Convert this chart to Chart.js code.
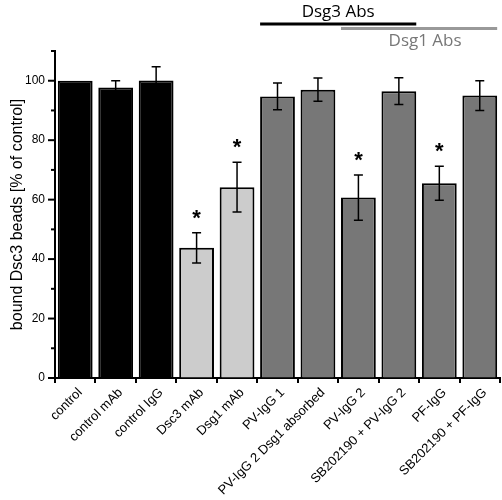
<!DOCTYPE html>
<html>
<head>
<meta charset="utf-8">
<script src="https://cdn.jsdelivr.net/npm/chart.js@4/dist/chart.umd.min.js"></script>
<style>
  body { margin: 0; background: #fff; }
  #wrap { width: 502px; height: 500px; }
</style>
</head>
<body>
<div id="wrap"><canvas id="myChart" width="502" height="500"></canvas></div>
<script>
// values
const categories = ['control', 'control mAb', 'control IgG', 'Dsc3 mAb', 'Dsg1 mAb', 'PV-IgG 1',
  'PV-IgG 2 Dsg1 absorbed', 'PV-IgG 2', 'SB202190 + PV-IgG 2', 'PF-IgG', 'SB202190 + PF-IgG'];
const boundBeads = [100, 97.7, 100.1, 43.8, 64.2, 94.7, 97, 60.7, 96.5, 65.5, 95];
const errors = [0, 2.3, 4.6, 5.1, 8.4, 4.5, 3.9, 7.6, 4.5, 5.7, 5];
const significant = [false, false, false, true, true, false, false, true, false, true, false];
const groups = ['control', 'control', 'control', 'mab', 'mab', 'abs', 'abs', 'abs', 'abs', 'abs', 'abs'];
const yTicks = [0, 20, 40, 60, 80, 100];
// antibody brackets: [label, first index, last index]
const dsg3Abs = ['Dsg3 Abs', 5, 8];
const dsg1Abs = ['Dsg1 Abs', 7, 10];

const fills = { control: '#000000', mab: '#cccccc', abs: '#777777' };

const errorBars = {
    id: 'errorBars',
    afterDatasetsDraw(chart) {
        const ctx = chart.ctx;
        const y = chart.scales.y;
        const meta = chart.getDatasetMeta(0);
        ctx.save();
        ctx.strokeStyle = '#000';
        ctx.lineWidth = 1.5;
        meta.data.forEach((bar, i) => {
            const x = bar.x;
            const v = boundBeads[i];
            const e = errors[i];
            const top = y.getPixelForValue(v + e);
            if (e > 0) {
                const bottom = y.getPixelForValue(v - e);
                ctx.beginPath();
                ctx.moveTo(x, top); ctx.lineTo(x, bottom);
                ctx.moveTo(x - 4.5, top); ctx.lineTo(x + 4.5, top);
                ctx.moveTo(x - 4.5, bottom); ctx.lineTo(x + 4.5, bottom);
                ctx.stroke();
            }
            if (significant[i]) {
                ctx.fillStyle = '#000';
                ctx.font = 'bold 22px "Liberation Sans", Arial, sans-serif';
                ctx.textAlign = 'center';
                ctx.textBaseline = 'middle';
                ctx.fillText('*', x, top - 14);
            }
        });
        ctx.restore();
    }
};

const yMinorTicks = {
    id: 'yMinorTicks',
    afterDraw(chart) {
        const ctx = chart.ctx;
        const y = chart.scales.y;
        const left = chart.chartArea.left;
        ctx.save();
        ctx.strokeStyle = '#000';
        ctx.lineWidth = 2;
        for (let v = 0; v <= 110; v += 10) {
            const py = y.getPixelForValue(v);
            const len = yTicks.includes(v) ? 7 : 4;
            ctx.beginPath();
            ctx.moveTo(left - len, py);
            ctx.lineTo(left, py);
            ctx.stroke();
        }
        ctx.restore();
    }
};

const brackets = {
    id: 'brackets',
    afterDraw(chart) {
        const ctx = chart.ctx;
        const meta = chart.getDatasetMeta(0);
        const span = (a, b) => [meta.data[a].x - meta.data[a].width / 2, meta.data[b].x + meta.data[b].width / 2];
        ctx.save();
        ctx.font = '17px "Open Sans", sans-serif';
        ctx.textAlign = 'center';
        ctx.textBaseline = 'middle';

        let [x0, x1] = span(dsg3Abs[1], dsg3Abs[2]);
        ctx.strokeStyle = '#000';
        ctx.lineWidth = 3;
        ctx.beginPath(); ctx.moveTo(x0, 24); ctx.lineTo(x1, 24); ctx.stroke();
        ctx.fillStyle = '#000';
        ctx.fillText(dsg3Abs[0], (x0 + x1) / 2, 12);

        [x0, x1] = span(dsg1Abs[1], dsg1Abs[2]);
        ctx.strokeStyle = '#999';
        ctx.beginPath(); ctx.moveTo(x0, 28.5); ctx.lineTo(x1, 28.5); ctx.stroke();
        ctx.fillStyle = '#777';
        ctx.fillText(dsg1Abs[0], (x0 + x1) / 2 + 6, 41);
        ctx.restore();
    }
};

const ctx = document.getElementById('myChart').getContext('2d');
new Chart(ctx, {
    type: 'bar',
    data: {
        labels: categories,
        datasets: [{
            data: boundBeads,
            backgroundColor: groups.map(g => fills[g]),
            borderColor: '#000',
            borderWidth: 2,
            categoryPercentage: 1,
            barPercentage: 0.86
        }]
    },
    options: {
        responsive: false,
        animation: false,
        layout: { padding: { top: 51, right: 2, left: 0, bottom: 0 } },
        plugins: { legend: { display: false }, tooltip: { enabled: false } },
        scales: {
            x: {
                afterFit(scale) { scale.height = 122; },
                grid: {
                    offset: true,
                    drawOnChartArea: false,
                    drawTicks: true,
                    tickLength: 5,
                    color: '#000',
                    lineWidth: 2
                },
                border: { display: true, color: '#000', width: 2 },
                ticks: {
                    color: '#000',
                    minRotation: 45,
                    maxRotation: 45,
                    autoSkip: false,
                    padding: 2,
                    labelOffset: 5,
                    font: { family: '"Liberation Sans", Arial, sans-serif', size: 13 }
                }
            },
            y: {
                min: 0,
                max: 110,
                afterFit(scale) { scale.width = 55; },
                grid: { display: true, drawOnChartArea: false, drawTicks: false },
                border: { display: true, color: '#000', width: 2 },
                ticks: {
                    stepSize: 10,
                    padding: 10,
                    color: '#000',
                    font: { family: '"Liberation Sans", Arial, sans-serif', size: 12 },
                    callback: v => (yTicks.includes(v) ? v : '')
                },
                title: {
                    display: true,
                    text: 'bound Dsc3 beads [% of control]',
                    color: '#000',
                    padding: { top: 8, bottom: 0 },
                    font: { family: '"Liberation Sans", Arial, sans-serif', size: 16 }
                }
            }
        }
    },
    plugins: [errorBars, yMinorTicks, brackets]
});
</script>
</body>
</html>
